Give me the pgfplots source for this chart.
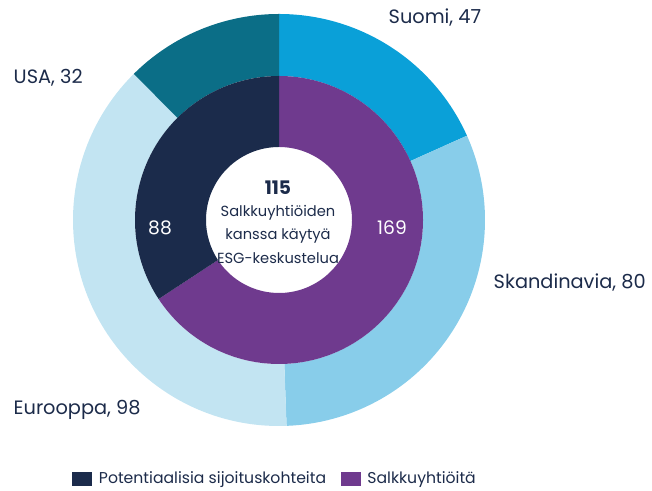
\documentclass[border=0pt]{standalone}
\usepackage{pgfplots}
\pgfplotsset{compat=1.18}
\usepackage{pgfplotstable}
\usepackage{fontspec}
\setmainfont{Poppins}
\usetikzlibrary{calc}
\definecolor{cSuomi}{HTML}{0AA0D8}
\definecolor{cSkand}{HTML}{88CDEA}
\definecolor{cEuro}{HTML}{C2E4F2}
\definecolor{cUSA}{HTML}{0B6E87}
\definecolor{cNavy}{HTML}{1B2B4B}
\definecolor{cPurple}{HTML}{6F3A8E}
\definecolor{textc}{HTML}{1C2B4A}

\pgfplotstableread{
label value color
Suomi 47 cSuomi
Skandinavia 80 cSkand
Eurooppa 98 cEuro
USA 32 cUSA
}\outerdata
\pgfplotstableread{
label value color
Salkkuyhtioita 169 cPurple
Potentiaalisia 88 cNavy
}\innerdata

\newcommand{\drawring}[3]{%
  \pgfplotstablegetrowsof{#1}%
  \pgfmathtruncatemacro{\nrows}{\pgfplotsretval-1}%
  \def\total{0}%
  \pgfplotsforeachungrouped \i in {0,...,\nrows}{%
    \pgfplotstablegetelem{\i}{value}\of{#1}%
    \pgfmathsetmacro{\total}{\total+\pgfplotsretval}%
  }%
  \def\acc{0}%
  \pgfplotsforeachungrouped \i in {0,...,\nrows}{%
    \pgfplotstablegetelem{\i}{value}\of{#1}\let\segval\pgfplotsretval
    \pgfplotstablegetelem{\i}{color}\of{#1}\let\segcol\pgfplotsretval
    \pgfmathsetmacro{\angA}{90-360*(\acc/\total)}%
    \pgfmathsetmacro{\acc}{\acc+\segval}%
    \pgfmathsetmacro{\angB}{90-360*(\acc/\total)}%
    \fill[fill=\segcol] ($(C)+(\angA:#2)$) arc[start angle=\angA,end angle=\angB,radius=#2]
      -- ($(C)+(\angB:#3)$) arc[start angle=\angB,end angle=\angA,radius=#3] -- cycle;
  }%
}

\begin{document}
\begin{tikzpicture}
\begin{axis}[
  x=0.75pt, y=0.75pt,
  xmin=0, xmax=652, ymin=0, ymax=491,
  hide axis, clip=false,
  legend columns=2,
  legend style={at={(axis cs:68,12)}, anchor=west, draw=none, fill=none,
    font=\fontsize{11.75}{13}\selectfont, text=textc,
    /tikz/every odd column/.append style={column sep=3pt},
    /tikz/every even column/.append style={column sep=9pt}},
  legend image code/.code={\fill[#1] (0pt,-5.25pt) rectangle (15pt,5.25pt);},
]
\addlegendimage{fill=cNavy, draw=none}
\addlegendentry{Potentiaalisia sijoituskohteita}
\addlegendimage{fill=cPurple, draw=none}
\addlegendentry{Salkkuyhtiöitä}

\pgfplotsextra{
  \coordinate (C) at (axis cs:279,271);
  \coordinate (BL) at (axis cs:0,0);
  \coordinate (TR) at (axis cs:652,491);
  \drawring{\outerdata}{154.5pt}{108pt}
  \drawring{\innerdata}{108pt}{54.75pt}
}

\node[text=textc, font=\fontsize{14.5}{16}\selectfont, anchor=west] at (axis cs:384,473) {Suomi, 47};
\node[text=textc, font=\fontsize{14.5}{16}\selectfont, anchor=west] at (axis cs:489,208) {Skandinavia, 80};
\node[text=textc, font=\fontsize{14.5}{16}\selectfont, anchor=west] at (axis cs:9,81) {Eurooppa, 98};
\node[text=textc, font=\fontsize{14.5}{16}\selectfont, anchor=west] at (axis cs:9,413) {USA, 32};

\node[text=white, font=\fontsize{14}{16}\selectfont] at (axis cs:160,263) {88};
\node[text=white, font=\fontsize{14}{16}\selectfont] at (axis cs:392,263) {169};

\node[text=textc, font=\fontsize{14}{16}\bfseries] at (axis cs:278,303) {115};
\node[text=textc, font=\fontsize{11}{12}\selectfont] at (axis cs:278,278) {Salkkuyhtiöiden};
\node[text=textc, font=\fontsize{11}{12}\selectfont] at (axis cs:278,255) {kanssa käytyä};
\node[text=textc, font=\fontsize{11}{12}\selectfont] at (axis cs:278,233) {ESG-keskustelua};
\end{axis}
\pgfresetboundingbox
\path[use as bounding box] (BL) rectangle (TR);
\end{tikzpicture}
\end{document}
